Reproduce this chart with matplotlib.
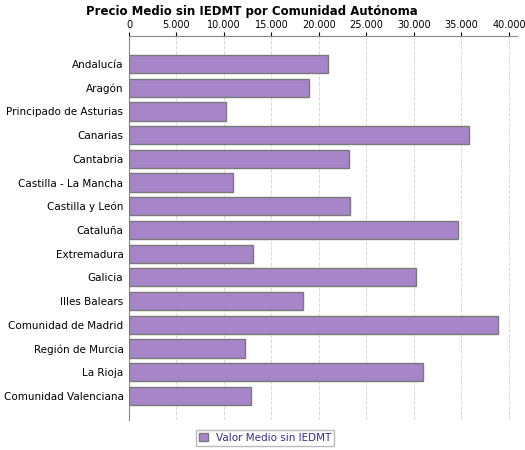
import matplotlib.pyplot as plt
from matplotlib.ticker import FuncFormatter

regions = ['Andalucía', 'Aragón', 'Principado de Asturias', 'Canarias', 'Cantabria',
           'Castilla - La Mancha', 'Castilla y León', 'Cataluña', 'Extremadura', 'Galicia',
           'Illes Balears', 'Comunidad de Madrid', 'Región de Murcia', 'La Rioja',
           'Comunidad Valenciana']
values = [20900, 18900, 10200, 35800, 23200, 10900, 23300, 34600, 13100, 30200,
          18300, 38900, 12200, 31000, 12800]

fig = plt.figure(figsize=(5.25, 4.5), dpi=100)
ax = fig.add_axes([0.2457, 0.067, 0.74, 0.853])

pos = list(range(len(regions)))
ax.barh(pos, values, height=0.77, color='#a685c8', edgecolor='#7a7a7a', linewidth=1,
        label='Valor Medio sin IEDMT', zorder=3)
ax.set_yticks(pos)
ax.set_yticklabels(regions, fontsize=7.5)
ax.set_ylim(len(regions) - 1 + 1.01, -1.18)
ax.set_xlim(0, 40900)
ax.set_xticks(range(0, 40001, 5000))
ax.xaxis.set_major_formatter(FuncFormatter(lambda v, p: f'{int(v):,}'.replace(',', '.')))
ax.xaxis.tick_top()
ax.tick_params(axis='x', labelsize=7, length=3, pad=1)
ax.tick_params(axis='y', length=0, pad=4)
ax.grid(axis='x', linestyle='--', color='#d8d8d8', linewidth=0.7, zorder=0)
for s in ['right', 'bottom']:
    ax.spines[s].set_visible(False)
for s in ['top', 'left']:
    ax.spines[s].set_color('#888888')

fig.text(0.48, 0.975, 'Precio Medio sin IEDMT por Comunidad Autónoma', ha='center', va='center',
         fontsize=8.5, fontweight='bold')
fig.legend(loc='center', bbox_to_anchor=(0.505, 0.027), fontsize=7.5, frameon=True,
           edgecolor='#aaaaaa', fancybox=False, handlelength=0.8, handleheight=0.8,
           borderpad=0.3, labelcolor='#3a2a8a')

fig.savefig('out.png', dpi=100)
